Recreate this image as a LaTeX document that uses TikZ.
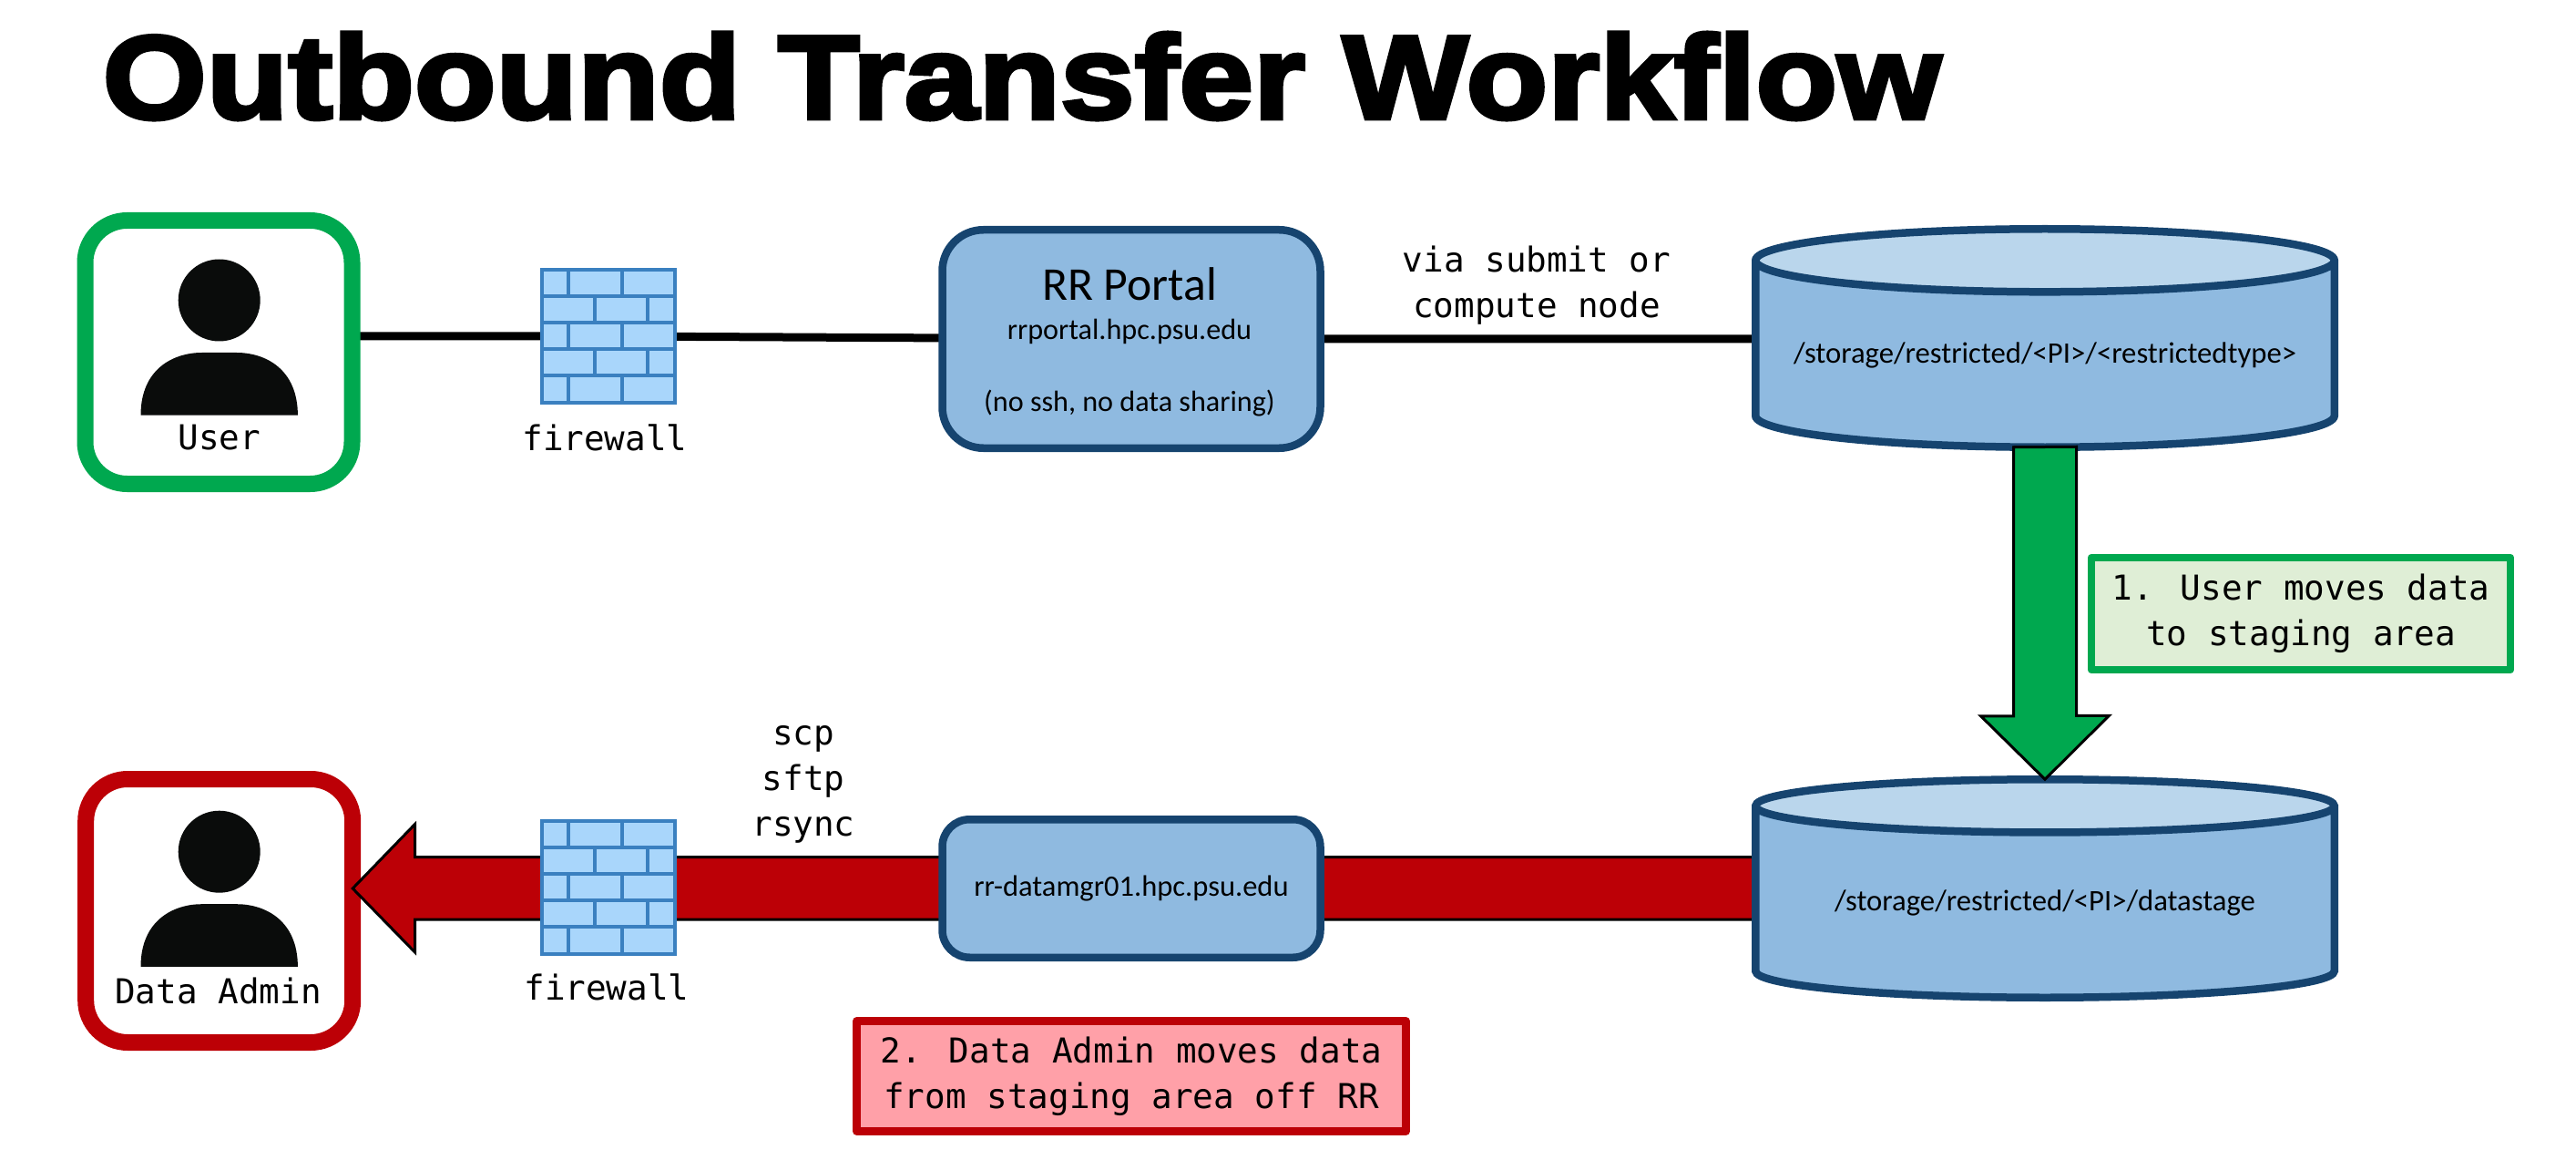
\documentclass[tikz,border=0pt]{standalone}
\usepackage{fontspec}
\setmainfont{Carlito}
\newfontfamily\monofont{DejaVu Sans Mono}
\newfontfamily\titlefont[FakeBold=3.5,FakeStretch=1.128]{Liberation Sans Bold}
\usetikzlibrary{calc,backgrounds,shapes.geometric}

\definecolor{boxblue}{HTML}{8FBAE0}
\definecolor{topblue}{HTML}{BAD6EC}
\definecolor{edgeblue}{HTML}{16446F}
\definecolor{wallblue}{HTML}{3A80C0}
\definecolor{brickblue}{HTML}{A9D6FB}
\definecolor{usergreen}{HTML}{00A84F}
\definecolor{notegreen}{HTML}{DFEED6}
\definecolor{adminred}{HTML}{BC0006}
\definecolor{notered}{HTML}{FFA0A8}
\definecolor{persongray}{HTML}{0A0C0B}

\tikzset{
  monotext/.style={font=\monofont\fontsize{10.7}{14.2}\selectfont, align=center},
  personbox/.style={draw=#1, fill=white, line width=1.8mm, rounded corners=4.6mm, minimum width=2.93cm, minimum height=2.89cm, outer sep=0},
  portalbox/.style={draw=edgeblue, fill=boxblue, line width=.85mm, minimum width=4.15cm, outer sep=0, align=center},
  storage/.style={cylinder, shape border rotate=90, shape aspect=.12, anchor=shape center, draw=edgeblue, line width=.85mm,
    cylinder uses custom fill, cylinder end fill=topblue, cylinder body fill=boxblue,
    minimum width=6.355cm, minimum height=2.395cm, outer sep=0, text height=.2cm, text depth=.13cm, font=\fontsize{9.3}{11}\selectfont},
  notebox/.style={draw=#1, line width=.85mm, line join=round, monotext, outer sep=0},
  link/.style={line width=.9mm},
  bigarrow/.style={draw=black, line width=.3mm},
  brick/.style={draw=wallblue, line width=.4mm},
  firewall/.style={draw=wallblue, fill=brickblue, line width=.4mm, minimum size=1.46cm, outer sep=0, path picture={
    \foreach \row in {1,...,4}
      \draw[brick] (-.73,.73-.29*\row) -- (.73,.73-.29*\row);
    \foreach \row in {0,2,4} {
      \draw[brick] (-.44,.73-.29*\row) -- (-.44,.44-.29*\row);
      \draw[brick] (.15,.73-.29*\row) -- (.15,.44-.29*\row);
    }
    \foreach \row in {1,3} {
      \draw[brick] (-.145,.73-.29*\row) -- (-.145,.44-.29*\row);
      \draw[brick] (.435,.73-.29*\row) -- (.435,.44-.29*\row);
    }}},
  person/.pic={
    \fill[persongray] (0,0) circle (.45);
    \fill[persongray] (-.862,-1.262) .. controls (-.862,-.75) and (-.5,-.575) .. (-.19,-.575) -- (.19,-.575) .. controls (.5,-.575) and (.862,-.75) .. (.862,-1.262) -- cycle;
  }
}

\begin{document}
\begin{tikzpicture}
  \useasboundingbox (0,0) rectangle (28.28,12.72);

  % Title
  \node[anchor=base west, inner sep=0, font=\titlefont\fontsize{37}{37}\selectfont] (title) at (1.12,11.42) {Outbound Transfer Workflow};

  % Firewalls, portal and storage
  \node[personbox=usergreen] (user) at (2.40,8.855) {};
  \node[firewall] (fw1) at (6.677,9.03) {};
  \node[firewall] (fw2) at (6.675,2.98) {};
  \node[portalbox, minimum height=2.395cm, rounded corners=4.5mm] (portal) at (12.42,9.0) {};
  \node[portalbox, minimum height=1.515cm, rounded corners=3mm, font=\fontsize{9.25}{11}\selectfont] (mgr) at (12.42,2.97) {rr-datamgr01.hpc.psu.edu};
  \node[storage] (store1) at (22.45,9.01) {/storage/restricted/<PI>/<restrictedtype>};
  \node[storage] (store2) at (22.45,2.97) {/storage/restricted/<PI>/datastage};

  % Portal text
  \node[anchor=base, font=\fontsize{14.7}{14.7}\selectfont] (portaltitle) at (12.40,9.42) {RR Portal};
  \node[anchor=base, font=\fontsize{9.15}{11}\selectfont] (portalhost) at (12.40,8.99) {rrportal.hpc.psu.edu};
  \node[anchor=base, font=\fontsize{9.15}{11}\selectfont] (portalnote) at (12.40,8.20) {(no ssh, no data sharing)};

  % Connectors behind the boxes
  \begin{pgfonlayer}{background}
    \node[personbox=adminred] (admin) at (2.407,2.725) {};
    \draw[link] (user.east |- fw1) -- (fw1) -- (portal) -- (store1.west |- portal);
    \draw[bigarrow, fill=adminred] (store2.west |- 0,3.315) -- (4.555,3.315) -- ++(0,.36) -- (admin.east |- mgr) -- (4.555,2.27) -- ++(0,.36) -- (store2.west |- 0,2.63) -- cycle;
  \end{pgfonlayer}
  \pic at (2.407,9.425) {person};
  \pic at (2.407,3.373) {person};
  \node[monotext, anchor=base] (usertext) at (2.407,7.79) {User};
  \node[monotext, anchor=base] (admintext) at (2.395,1.705) {Data Admin};

  % Labels
  \node[monotext, anchor=base] (fw1text) at (6.64,7.77) {firewall};
  \node[monotext, anchor=base] (fw2text) at (6.66,1.75) {firewall};
  \node[monotext] (viatext) at (16.87,9.59) {via submit or\\compute node};
  \node[monotext] (tooltext) at (8.82,4.11) {scp\\sftp\\rsync};

  % Step notes
  \draw[bigarrow, fill=usergreen] (store1.south) ++(-.345,0) -- ++(0,-2.95) -- ++(-.36,0) -- (store2.north) -- ++(.705,.70) -- ++(-.36,0) -- ++(0,2.95) -- cycle;
  \node[notebox=usergreen, fill=notegreen, minimum width=4.6cm, minimum height=1.23cm] (note1) at (25.26,5.985) {1. User moves data\\to staging area};
  \node[notebox=adminred, fill=notered, minimum width=6.03cm, minimum height=1.21cm] (note2) at (12.42,.91) {2. Data Admin moves data\\from staging area off RR};
\end{tikzpicture}
\end{document}
